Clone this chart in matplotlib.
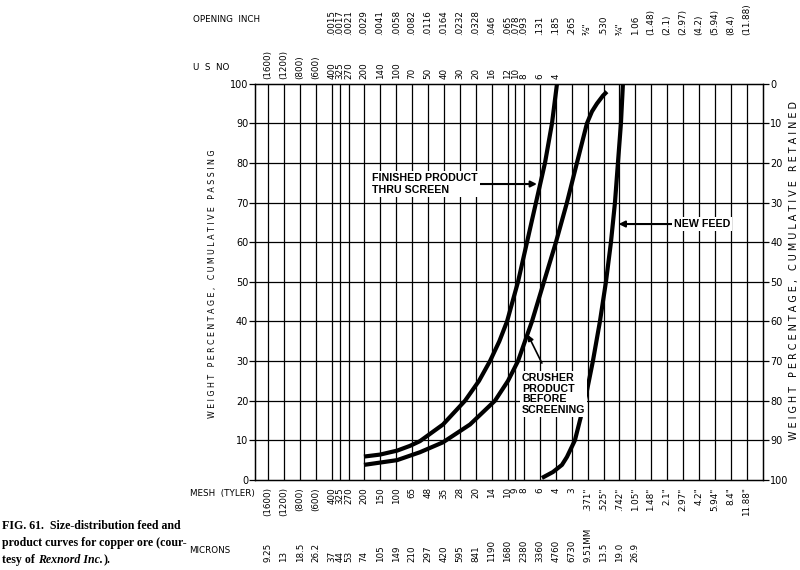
import numpy as np
import matplotlib.pyplot as plt
from matplotlib import transforms

# grid positions (microns) along the size axis
microns = [9.25, 13, 18.5, 26.2, 37, 44, 53, 74, 105, 149, 210, 297, 420, 595,
           841, 1190, 1680, 1981, 2380, 3360, 4760, 6730, 9510, 13500, 19000,
           26900, 37600, 53300, 75400, 106700, 150900, 213400, 301800]

mesh_labels = ['(1600)', '(1200)', '(800)', '(600)', '400', '325', '270', '200',
               '150', '100', '65', '48', '35', '28', '20', '14', '10', '9', '8',
               '6', '4', '3', '.371"', '.525"', '.742"', '1.05"', '1.48"',
               '2.1"', '2.97"', '4.2"', '5.94"', '8.4"', '11.88"']
micron_labels = ['9.25', '13', '18.5', '26.2', '37', '44', '53', '74', '105',
                 '149', '210', '297', '420', '595', '841', '1190', '1680', '',
                 '2380', '3360', '4760', '6730', '9.51MM', '13.5', '19.0', '26.9']
usno_labels = ['(1600)', '(1200)', '(800)', '(600)', '400', '325', '270', '200',
               '140', '100', '70', '50', '40', '30', '20', '16', '12', '10', '8',
               '6', '4']
inch_labels = ['.0015', '.0017', '.0021', '.0029', '.0041', '.0058', '.0082',
               '.0116', '.0164', '.0232', '.0328', '.046', '.065', '.078', '.093',
               '.131', '.185', '.265', '\u215c"', '.530', '\u00be"', '1.06',
               '(1.48)', '(2.1)', '(2.97)', '(4.2)', '(5.94)', '(8.4)', '(11.88)']

# curves: size (microns) vs cumulative % passing
fin_size = [74, 105, 152, 201, 250, 412, 665, 900, 1143, 1400, 1655, 2101, 2553,
            3104, 3774, 4395, 4900]
fin_pct = [5.9, 6.4, 7.4, 8.6, 9.8, 14, 20, 25, 30, 35, 40, 50, 60, 70, 80, 90, 100]

crush_size = [74, 152, 250, 412, 741, 1274, 1689, 2101, 2844, 3690, 4789,
              6081, 7551, 9390, 10470, 11670, 13300, 14490]
crush_pct = [3.8, 5.0, 7.0, 9.5, 14, 20, 25, 30, 40, 50, 60, 70, 80, 90, 93,
             95, 97, 98]

feed_size = [3532, 4487, 5458, 6081, 7230, 8990, 10690, 12450, 14190, 15820,
             17260, 18410, 19650, 20520]
feed_pct = [0.5, 2.0, 3.8, 5.8, 10, 20, 30, 40, 50, 60, 70, 80, 90, 100]

small = dict(family='DejaVu Sans', fontsize=6.3)
bold = dict(family='Liberation Sans', fontweight='bold', fontsize=7.7)

fig = plt.figure(figsize=(8, 5.7), dpi=100)
ax = fig.add_axes([0.319, 0.158, 0.635, 0.695])
ax.set_xscale('log')
ax.set_xlim(6.97, 432000)
ax.set_ylim(0, 100)

for m in microns:
    ax.axvline(m, color='black', lw=0.9, zorder=1)
for p in range(10, 100, 10):
    ax.axhline(p, color='black', lw=0.9, zorder=1)

for xs, ys in [(fin_size, fin_pct), (crush_size, crush_pct), (feed_size, feed_pct)]:
    ax.plot(xs, ys, color='black', lw=3, solid_capstyle='butt',
            solid_joinstyle='round', zorder=3)

ax.set_xticks([])
ax.minorticks_off()
ax.set_yticks(range(0, 101, 10))
ax.tick_params(axis='y', length=4, width=0.9, labelsize=7, pad=1)
for s in ax.spines.values():
    s.set_linewidth(1.0)

ax2 = ax.twinx()
ax2.set_ylim(100, 0)
ax2.set_yticks(range(0, 101, 10))
ax2.tick_params(axis='y', length=4, width=0.9, labelsize=7, pad=1)

fig.text(212 / 800, 0.503,
         'W E I G H T   P E R C E N T A G E ,   C U M U L A T I V E   P A S S I N G',
         rotation=90, ha='center', va='center', fontsize=5.7)
fig.text(794 / 800, 0.526,
         'W E I G H T   P E R C E N T A G E ,   C U M U L A T I V E   R E T A I N E D',
         rotation=90, ha='center', va='center', fontsize=6.9)

# size labels above and below the grid
tr = transforms.blended_transform_factory(ax.transData, fig.transFigure)
for m, lab in zip(microns, mesh_labels):
    ax.text(m, 0.145, lab, transform=tr, rotation=90, ha='center', va='top', **small)
for m, lab in zip(microns, micron_labels):
    ax.text(m, 0.014, lab, transform=tr, rotation=90, ha='center', va='bottom', **small)
for m, lab in zip(microns, usno_labels):
    ax.text(m, 0.862, lab, transform=tr, rotation=90, ha='center', va='bottom', **small)
for m, lab in zip(microns[4:], inch_labels):
    ax.text(m, 0.939, lab, transform=tr, rotation=90, ha='center', va='bottom', **small)

fig.text(0.241, 0.965, 'OPENING  INCH', va='center', **small)
fig.text(0.241, 0.882, 'U  S  NO', va='center', **small)
fig.text(0.237, 0.135, 'MESH  (TYLER)', va='center', **small)
fig.text(0.237, 0.035, 'MICRONS', va='center', **small)

# curve annotations
wbox = dict(facecolor='white', edgecolor='none', pad=1.5)
arrow = dict(arrowstyle='-|>', color='black', lw=1.5, mutation_scale=9,
             shrinkA=0, shrinkB=0)
ax.annotate('', xy=(3170, 74.7), xytext=(880, 74.7), arrowprops=arrow, zorder=4)
ax.text(88, 74.7, 'FINISHED PRODUCT\nTHRU SCREEN', ha='left', va='center',
        linespacing=1.25, bbox=wbox, zorder=4, **bold)
ax.annotate('', xy=(18700, 64.6), xytext=(61000, 64.6), arrowprops=arrow, zorder=4)
ax.text(62100, 64.6, 'NEW FEED', ha='left', va='center', bbox=wbox, zorder=4, **bold)
ax.annotate('', xy=(2610, 36.6), xytext=(3530, 29.5),
            arrowprops=dict(arrow, lw=1.2, mutation_scale=8), zorder=4)
ax.text(2290, 21.7, 'CRUSHER\nPRODUCT\nBEFORE\nSCREENING', ha='left', va='center',
        linespacing=1.1, bbox=wbox, zorder=4, **bold)

# caption
cap = dict(family='Liberation Serif', fontsize=8.6, fontweight='bold')
fig.text(0.003, 0.077, 'FIG. 61.  Size-distribution feed and', va='center', **cap)
fig.text(0.003, 0.047, 'product curves for copper ore (cour-', va='center', **cap)
t = fig.text(0.003, 0.017, 'tesy of ', va='center', **cap)
t2 = ax.annotate('Rexnord Inc.', xy=(1, 0), xycoords=t, va='bottom', style='italic', **cap)
ax.annotate(').', xy=(1, 0), xycoords=t2, va='bottom', **cap)

fig.savefig('out.png', dpi=100)
